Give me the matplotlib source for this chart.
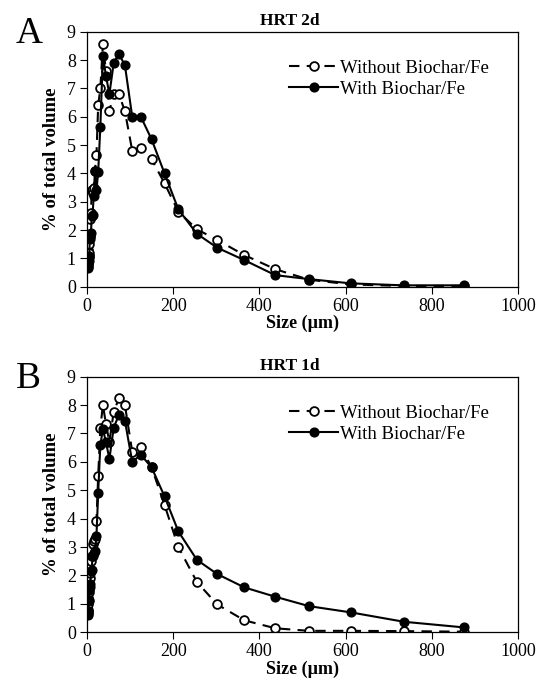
import numpy as np
import matplotlib.pyplot as plt

plt.rcParams['font.family'] = ['Liberation Serif', 'DejaVu Serif']

# particle size bins (um)
size = [2.0, 2.3, 2.8, 3.3, 3.9, 4.6, 5.5, 6.5, 7.8, 9.3, 11, 13, 15.6, 18.5,
        22, 26, 31, 37, 44, 52, 62, 74, 88, 105, 125, 150, 180, 212, 255, 302,
        365, 437, 515, 612, 735, 875]

# HRT 2d
a_without = [0.8, 0.9, 1.0, 1.3, 1.1, 1.2, 1.5, 1.8, 2.4, 2.6, 3.4, 3.3, 3.5, 4.1,
             4.65, 6.4, 7.0, 8.57, 7.6, 6.2, 6.8, 6.8, 6.2, 4.8, 4.9, 4.5, 3.65, 2.65,
             2.03, 1.65, 1.12, 0.62, 0.25, 0.08, 0.03, 0.03]
a_with = [0.65, 0.7, 0.75, 0.8, 0.9, 1.0, 1.1, 1.7, 1.75, 1.9, 2.5, 2.55, 3.2, 4.1,
          3.4, 4.05, 5.65, 8.15, 7.45, 6.8, 7.9, 8.22, 7.82, 6.0, 6.0, 5.2, 4.0, 2.73,
          1.87, 1.38, 0.94, 0.41, 0.27, 0.12, 0.05, 0.05]

# HRT 1d
b_without = [0.7, 0.8, 1.0, 1.2, 1.4, 1.6, 1.7, 1.9, 2.1, 2.5, 2.7, 3.1, 3.2, 3.3,
             3.93, 5.5, 7.2, 8.0, 7.33, 6.7, 7.76, 8.23, 8.0, 6.35, 6.53, 5.8, 4.48, 3.0,
             1.77, 0.98, 0.42, 0.14, 0.05, 0.05, 0.04, 0.02]
b_with = [0.6, 0.65, 0.7, 0.75, 1.1, 1.15, 1.5, 1.6, 1.7, 2.15, 2.2, 2.7, 2.8, 2.85,
          3.4, 4.9, 6.6, 7.14, 6.7, 6.1, 7.2, 7.65, 7.45, 6.0, 6.25, 5.8, 4.78, 3.55,
          2.55, 2.05, 1.58, 1.25, 0.92, 0.7, 0.37, 0.17]

fig = plt.figure(figsize=(5.47, 6.91), dpi=100)
axA = fig.add_axes([0.159, 0.585, 0.788, 0.369])
axB = fig.add_axes([0.159, 0.085, 0.788, 0.370])

panels = [(axA, a_without, a_with, 'HRT 2d', 'A'),
          (axB, b_without, b_with, 'HRT 1d', 'B')]

for ax, wo, w, title, letter in panels:
    ax.plot(size, wo, ls=(0, (5, 3.5)), color='black', lw=1.5, marker='o',
            ms=6.3, mfc='white', mec='black', mew=1.3, label='Without Biochar/Fe')
    ax.plot(size, w, ls='-', color='black', lw=1.5, marker='o',
            ms=6.3, mfc='black', mec='black', label='With Biochar/Fe')
    ax.set_xlim(0, 1000)
    ax.set_ylim(0, 9)
    ax.set_xticks(np.arange(0, 1001, 200))
    ax.set_yticks(np.arange(0, 10, 1))
    ax.tick_params(axis='both', labelsize=13, direction='out', length=5,
                   width=0.8, pad=3)
    for s in ax.spines.values():
        s.set_linewidth(0.9)
    ax.set_title(title, fontsize=12.5, fontweight='bold', pad=5, x=0.47)
    ax.set_xlabel('Size (\u00b5m)', fontsize=13, fontweight='bold', labelpad=0)
    ax.set_ylabel('% of total volume', fontsize=13.5, fontweight='bold', labelpad=5)
    ax.legend(loc='upper right', bbox_to_anchor=(0.95, 0.92), frameon=False,
              fontsize=13.5, handlelength=2.6, handletextpad=0.1,
              labelspacing=0.2, borderaxespad=0)
    ax.text(-0.165, 1.06, letter, transform=ax.transAxes, fontsize=27,
            ha='left', va='top')

fig.savefig('out.png', dpi=100)
